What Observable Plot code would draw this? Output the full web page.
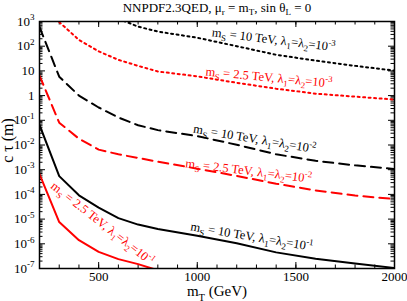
<!DOCTYPE html>
<html><head><meta charset="utf-8">
<script src="https://cdn.jsdelivr.net/npm/d3@7"></script>
<script src="https://cdn.jsdelivr.net/npm/@observablehq/plot@0.6"></script>
<style>body{margin:0;background:#fff}</style>
</head><body><div id="chart"></div>
<script>
// m_T grid (GeV)
const mT = [200,300,400,500,600,700,800,1000,1200,1400,1600,1800,2000];
// c tau (m), m_S = 10 TeV
const ms10_lam1e1 = [6.5e-2,5.5e-4,9.2e-5,2.9e-5,1.1e-5,6.0e-6,4.0e-6,2.1e-6,1.05e-6,4.5e-7,2.5e-7,1.6e-7,1.05e-7];
const ms10_lam1e2 = [600,5.8,1.0,0.33,0.13,0.063,0.04,0.023,0.0102,4.2e-3,2.3e-3,1.5e-3,1.07e-3];
const ms10_lam1e3 = [null,null,null,null,1300,620,390,220,100,45,26,16,10.3];
// c tau (m), m_S = 2.5 TeV
const ms25_lam1e1 = [6.6e-4,7.6e-6,1.4e-6,4.7e-7,2.4e-7,1.5e-7,8.5e-8,null,null,null,null,null,null];
const ms25_lam1e2 = [6.5,0.08,0.018,6.5e-3,4.2e-3,3.0e-3,2.1e-3,1.1e-3,5.6e-4,2.7e-4,1.45e-4,9.0e-5,6.5e-5];
const ms25_lam1e3 = [null,950,180,62,28,16,9.5,6.0,3.3,1.9,1.2,0.91,0.69];

const xTicks = [500,1000,1500,2000];
const yTicks = [1e-7,1e-6,1e-5,1e-4,1e-3,1e-2,1e-1,1,10,100,1000];
const yTickLabels = ["10^{-7}","10^{-6}","10^{-5}","10^{-4}","10^{-3}","10^{-2}","10^{-1}","1","10","10^{2}","10^{3}"];

const titleText = "NNPDF2.3QED, μ_{r} = m_{T}, sin θ_{L} = 0";
const xLabel = "m_{T} (GeV)";
const yLabel = "c τ (m)";

// annotations: label, anchor (mT, c tau), rotation, colour
const annLabels = [
  "m_{S} = 10 TeV, λ_{1}=λ_{2}=10^{-3}",
  "m_{S} = 2.5 TeV, λ_{1}=λ_{2}=10^{-3}",
  "m_{S} = 10 TeV, λ_{1}=λ_{2}=10^{-2}",
  "m_{S} = 2.5 TeV, λ_{1}=λ_{2}=10^{-2}",
  "m_{S} = 10 TeV, λ_{1}=λ_{2}=10^{-1}",
  "m_{S} = 2.5 TeV, λ_{1}=λ_{2}=10^{-1}"
];
const annX = [1075, 1042, 981, 940, 966, 266];
const annY = [370, 9.5, 0.046, 1.84e-3, 5.1e-6, 2.54e-4];
const annRot = [7, 5.4, 9.5, 7, 9.5, 38];
const annColor = ["black","red","black","red","black","red"];

const W = 407, H = 301;
const mt = 21, mr = 13, mb = 33, ml = 39;
const pw = W - ml - mr, ph = H - mt - mb;

const pts = vals => mT.map((x, i) => ({x, y: vals[i]})).filter(d => d.y != null);
const xMinor = d3.range(200, 2001, 100);
const yMinor = [];
for (let e = -7; e < 3; e++) for (let k = 2; k <= 9; k++) yMinor.push(k * Math.pow(10, e));

const lines = [
  [ms10_lam1e1, "black", null],
  [ms25_lam1e1, "red", null],
  [ms10_lam1e2, "black", "10,6"],
  [ms25_lam1e2, "red", "10,6"],
  [ms10_lam1e3, "black", "2,3.5"],
  [ms25_lam1e3, "red", "2,3.5"]
];

const marks = [
  // inward ticks on all four sides
  Plot.tickX(xMinor, {x: d => d, insetTop: ph - 3.5, strokeWidth: 1}),
  Plot.tickX(xTicks, {x: d => d, insetTop: ph - 6, strokeWidth: 1}),
  Plot.tickX(xMinor, {x: d => d, insetBottom: ph - 3.5, strokeWidth: 1}),
  Plot.tickX(xTicks, {x: d => d, insetBottom: ph - 6, strokeWidth: 1}),
  Plot.tickY(yMinor, {y: d => d, insetRight: pw - 3.5, strokeWidth: 1}),
  Plot.tickY(yTicks, {y: d => d, insetRight: pw - 6, strokeWidth: 1}),
  Plot.tickY(yMinor, {y: d => d, insetLeft: pw - 3.5, strokeWidth: 1}),
  Plot.tickY(yTicks, {y: d => d, insetLeft: pw - 6, strokeWidth: 1}),
  ...lines.map(([v, c, dash]) => Plot.line(pts(v), {x: "x", y: "y", stroke: c, strokeWidth: 2, strokeDasharray: dash, clip: true})),
  Plot.frame({stroke: "black", strokeWidth: 1.5}),
  Plot.axisX(xTicks, {tickSize: 0, tickPadding: 3, fontSize: 13, label: null, tickFormat: d => String(d)}),
  Plot.axisY(yTicks, {tickSize: 0, tickPadding: 5, fontSize: 13, label: null,
    tickFormat: d => yTickLabels[yTicks.indexOf(d)]}),
  ...annLabels.map((t, i) => Plot.text([t], {x: () => annX[i], y: () => annY[i], text: d => d,
    rotate: annRot[i], fill: annColor[i], textAnchor: "start", lineAnchor: "middle", fontSize: 12.5})),
  Plot.text([titleText], {frameAnchor: "top", dy: -14, fontSize: 13, text: d => d, textAnchor: "middle", lineAnchor: "middle"}),
  Plot.text([xLabel], {frameAnchor: "bottom", dy: 23, fontSize: 15, text: d => d, textAnchor: "middle", lineAnchor: "middle"}),
  Plot.text([yLabel], {frameAnchor: "left", dx: -32, dy: -4.5, rotate: -90, fontSize: 16, text: d => d, textAnchor: "middle", lineAnchor: "middle"})
];

const chart = Plot.plot({
  width: W, height: H,
  marginTop: mt, marginRight: mr, marginBottom: mb, marginLeft: ml,
  style: {fontFamily: "'Liberation Serif', 'Times New Roman', serif", fontSize: "13px", color: "black", background: "white"},
  x: {domain: [200, 2000]},
  y: {type: "log", domain: [1e-7, 1e3]},
  marks
});

// rich text: _{sub} and ^{sup}
const svgns = "http://www.w3.org/2000/svg";
function rich(el) {
  const s = el.textContent;
  if (!/[_^]\{/.test(s)) return;
  const parts = [];
  const re = /([_^])\{([^}]*)\}/g;
  let last = 0, m;
  while ((m = re.exec(s))) {
    if (m.index > last) parts.push({t: s.slice(last, m.index), k: 0});
    parts.push({t: m[2], k: m[1] === "_" ? 1 : -1});
    last = re.lastIndex;
  }
  if (last < s.length) parts.push({t: s.slice(last), k: 0});
  el.textContent = "";
  let cur = 0;
  for (const p of parts) {
    const target = p.k === 1 ? 0.28 : p.k === -1 ? -0.42 : 0;
    const scale = p.k ? 0.7 : 1;
    const ts = document.createElementNS(svgns, "tspan");
    if (p.k) ts.setAttribute("font-size", "70%");
    const d = target - cur;
    if (d) ts.setAttribute("dy", (d / scale).toFixed(3) + "em");
    ts.textContent = p.t;
    el.appendChild(ts);
    cur = target;
  }
}
chart.querySelectorAll("text").forEach(rich);
document.getElementById("chart").appendChild(chart);
</script>
</body></html>
